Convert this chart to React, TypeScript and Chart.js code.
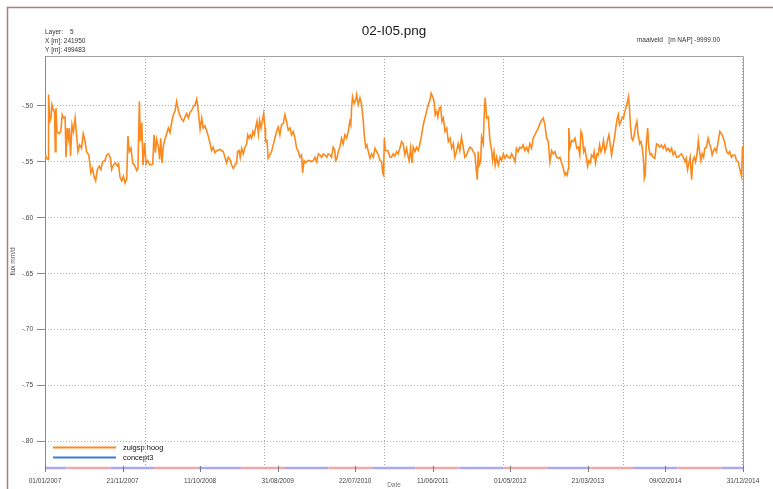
import React, { useEffect, useRef } from "react";
import { Chart, registerables } from "chart.js";

Chart.register(...registerables);

const chartTitle = "02-I05.png";
const headerLines = ["Layer:", "X [m]: 241950", "Y [m]: 499483"];
const layerValue = "5";
const maaiveldText = "maaiveld   [m NAP] -9999.00";
const yAxisTitle = "flux mm/d";
const xAxisTitle = "Date";

const seriesLabels = ["zuigsp hoog", "concept3"];
const seriesColors = ["#fb8a1e", "#3c7ddc"];

// x: days since 01/01/2007, y: flux (mm/d)
const days = [
  0, 7, 13, 15, 20, 25, 29, 35, 40, 43, 46, 50, 59, 66, 72, 78, 84, 88, 93, 98, 102, 107, 113, 119, 126, 132, 138, 145, 153, 160,
  167, 174, 183, 188, 192, 199, 205, 212, 219, 227, 234, 241, 251, 258, 266, 273, 279, 286, 294, 303, 308, 314, 321, 328, 335, 342, 347, 353, 360, 367,
  377, 384, 389, 395, 399, 405, 410, 417, 423, 430, 439, 451, 456, 462, 467, 474, 480, 484, 490, 495, 502, 509, 516, 523, 530, 537, 544, 551, 558, 565,
  572, 579, 586, 593, 600, 607, 614, 621, 628, 635, 642, 649, 656, 662, 669, 676, 683, 690, 697, 704, 711, 721,
  732, 739, 746, 753, 760, 767, 774, 781, 788, 795, 802, 806, 812, 817, 823, 830, 837, 844, 848, 854, 859, 865, 870, 876, 881, 887, 893, 898, 904, 909,
  915, 921, 923, 929, 934, 941, 948, 955, 962, 969, 976, 983, 990, 997, 1004, 1011, 1018, 1025, 1032, 1039, 1046, 1053, 1060, 1067, 1074, 1078, 1084, 1091, 1099, 1109,
  1116, 1123, 1130, 1137, 1144, 1151, 1158, 1165, 1172, 1179, 1185, 1193, 1199, 1206, 1213, 1216, 1222, 1227, 1234, 1241, 1248, 1255, 1262, 1269, 1276, 1280, 1283, 1287, 1294, 1300,
  1304, 1311, 1318, 1325, 1332, 1336, 1342, 1347, 1353, 1360, 1367, 1374, 1381, 1388, 1395, 1402, 1409, 1413, 1417, 1420, 1425, 1434, 1444,
  1450, 1457, 1464, 1471, 1478, 1485, 1492, 1499, 1506, 1513, 1520, 1524, 1530, 1536, 1541, 1548, 1555, 1562, 1569, 1576, 1583, 1590, 1597, 1604, 1611, 1616, 1622, 1628, 1633, 1639,
  1644, 1650, 1656, 1661, 1667, 1674, 1681, 1688, 1695, 1702, 1709, 1715, 1722, 1729, 1736, 1743, 1750, 1757, 1764, 1771, 1778, 1785, 1792, 1799, 1803, 1809, 1813, 1817, 1823, 1827,
  1834, 1838, 1842, 1848, 1855, 1862, 1869, 1873, 1879, 1884, 1890, 1897, 1904, 1911, 1918, 1925, 1932, 1939, 1946, 1953, 1960, 1967, 1973, 1980, 1987, 1994, 2001, 2008, 2015, 2022,
  2029, 2036, 2043, 2050, 2057, 2064, 2071, 2078, 2085, 2092, 2099, 2106, 2113, 2120, 2127, 2134, 2141, 2148, 2155, 2162, 2169, 2176,
  2180, 2185, 2190, 2192, 2197, 2204, 2211, 2218, 2225, 2232, 2238, 2243, 2248, 2254, 2259, 2266, 2271, 2276, 2282, 2287, 2294, 2298, 2304, 2310, 2315, 2321, 2326, 2332, 2337, 2343,
  2349, 2354, 2360, 2365, 2371, 2378, 2385, 2389, 2395, 2399, 2404, 2410, 2416, 2421, 2427, 2432, 2438, 2442, 2446, 2450, 2455, 2460, 2466, 2471, 2477, 2482, 2489, 2494, 2499, 2505,
  2508, 2512, 2516, 2522, 2527, 2533, 2538, 2545, 2552, 2559, 2566, 2573, 2580, 2587, 2594, 2601, 2608, 2615, 2622, 2629, 2636, 2643, 2650, 2657, 2664, 2671, 2678, 2683, 2689, 2695,
  2700, 2706, 2711, 2717, 2722, 2728, 2734, 2739, 2745, 2750, 2756, 2761, 2768, 2775, 2781, 2787, 2792, 2798, 2803, 2810, 2817, 2824, 2831, 2837, 2842, 2848, 2853, 2859, 2865, 2873,
  2880, 2887, 2894, 2901, 2908, 2915, 2919, 2921,
];

const zuigspHoog = [
  -0.543, -0.547, -0.548, -0.490, -0.514, -0.511, -0.499, -0.504, -0.505, -0.541, -0.502, -0.523, -0.525, -0.523, -0.508, -0.511, -0.510, -0.546, -0.520, -0.529, -0.520, -0.545, -0.517, -0.523, -0.511, -0.526, -0.541, -0.535, -0.538, -0.525,
  -0.531, -0.541, -0.544, -0.552, -0.560, -0.556, -0.563, -0.567, -0.557, -0.554, -0.557, -0.550, -0.549, -0.544, -0.543, -0.546, -0.557, -0.553, -0.551, -0.554, -0.552, -0.564, -0.567, -0.563, -0.569, -0.565, -0.527, -0.541, -0.538, -0.551,
  -0.554, -0.558, -0.556, -0.496, -0.532, -0.515, -0.553, -0.533, -0.552, -0.549, -0.553, -0.552, -0.526, -0.542, -0.530, -0.536, -0.548, -0.529, -0.551, -0.536, -0.530, -0.525, -0.520, -0.524, -0.515, -0.508, -0.505, -0.496, -0.504, -0.509,
  -0.512, -0.514, -0.510, -0.507, -0.511, -0.506, -0.504, -0.501, -0.499, -0.494, -0.506, -0.521, -0.511, -0.520, -0.518, -0.522, -0.527, -0.533, -0.540, -0.537, -0.542, -0.540,
  -0.539, -0.540, -0.541, -0.546, -0.551, -0.546, -0.548, -0.553, -0.556, -0.553, -0.551, -0.541, -0.540, -0.546, -0.538, -0.543, -0.537, -0.534, -0.526, -0.529, -0.526, -0.529, -0.523, -0.526, -0.520, -0.514, -0.525, -0.513, -0.520, -0.514,
  -0.507, -0.520, -0.532, -0.531, -0.547, -0.544, -0.541, -0.535, -0.529, -0.523, -0.519, -0.526, -0.517, -0.516, -0.508, -0.514, -0.522, -0.520, -0.526, -0.523, -0.529, -0.538, -0.541, -0.546, -0.544, -0.560, -0.549, -0.551, -0.549, -0.549,
  -0.550, -0.549, -0.546, -0.550, -0.543, -0.544, -0.546, -0.543, -0.544, -0.546, -0.543, -0.544, -0.546, -0.537, -0.540, -0.549, -0.547, -0.541, -0.537, -0.529, -0.534, -0.526, -0.529, -0.523, -0.514, -0.517, -0.502, -0.492, -0.498, -0.495,
  -0.490, -0.499, -0.493, -0.499, -0.514, -0.526, -0.537, -0.535, -0.541, -0.547, -0.543, -0.546, -0.538, -0.541, -0.544, -0.549, -0.550, -0.560, -0.562, -0.529, -0.540, -0.540, -0.546,
  -0.546, -0.543, -0.545, -0.541, -0.543, -0.538, -0.532, -0.534, -0.544, -0.538, -0.546, -0.549, -0.538, -0.551, -0.537, -0.541, -0.537, -0.540, -0.534, -0.526, -0.517, -0.511, -0.505, -0.499, -0.495, -0.489, -0.492, -0.496, -0.508, -0.505,
  -0.510, -0.502, -0.501, -0.514, -0.511, -0.523, -0.520, -0.532, -0.529, -0.538, -0.534, -0.546, -0.541, -0.534, -0.540, -0.528, -0.537, -0.546, -0.544, -0.540, -0.537, -0.538, -0.541, -0.543, -0.553, -0.566, -0.541, -0.553, -0.550, -0.528,
  -0.534, -0.508, -0.493, -0.511, -0.510, -0.531, -0.540, -0.549, -0.541, -0.553, -0.546, -0.553, -0.546, -0.549, -0.543, -0.547, -0.544, -0.546, -0.547, -0.543, -0.546, -0.550, -0.538, -0.541, -0.537, -0.538, -0.535, -0.540, -0.537, -0.541,
  -0.534, -0.538, -0.529, -0.526, -0.523, -0.520, -0.516, -0.513, -0.511, -0.517, -0.529, -0.532, -0.550, -0.540, -0.543, -0.541, -0.546, -0.547, -0.546, -0.551, -0.556, -0.562,
  -0.560, -0.562, -0.556, -0.520, -0.537, -0.531, -0.532, -0.529, -0.538, -0.537, -0.544, -0.523, -0.526, -0.541, -0.538, -0.547, -0.554, -0.549, -0.551, -0.544, -0.546, -0.541, -0.551, -0.543, -0.544, -0.535, -0.541, -0.538, -0.531, -0.541,
  -0.537, -0.531, -0.526, -0.534, -0.544, -0.535, -0.526, -0.519, -0.511, -0.508, -0.517, -0.514, -0.510, -0.511, -0.505, -0.501, -0.496, -0.492, -0.502, -0.517, -0.529, -0.531, -0.526, -0.519, -0.514, -0.526, -0.534, -0.532, -0.537, -0.549,
  -0.565, -0.562, -0.535, -0.520, -0.538, -0.544, -0.543, -0.546, -0.547, -0.534, -0.535, -0.537, -0.535, -0.538, -0.535, -0.540, -0.538, -0.541, -0.538, -0.544, -0.541, -0.546, -0.546, -0.544, -0.543, -0.546, -0.550, -0.547, -0.557, -0.551,
  -0.546, -0.566, -0.549, -0.546, -0.550, -0.544, -0.531, -0.541, -0.549, -0.543, -0.546, -0.538, -0.537, -0.529, -0.534, -0.538, -0.544, -0.540, -0.538, -0.541, -0.532, -0.523, -0.525, -0.528, -0.531, -0.537, -0.541, -0.543, -0.541, -0.546,
  -0.544, -0.544, -0.549, -0.550, -0.557, -0.563, -0.537, -0.536,
];

const concept3: number[] = [];

const xMaxDay = 2921;
const xTickLabels = [
  "01/01/2007", "21/11/2007", "11/10/2008", "31/08/2009", "22/07/2010",
  "11/06/2011", "01/05/2012", "21/03/2013", "09/02/2014", "31/12/2014",
];
const yMin = -0.8226;
const yMax = -0.4556;
const yTickValues = [-0.8, -0.75, -0.7, -0.65, -0.6, -0.55, -0.5];
const yTickLabels = ["-.80", "-.75", "-.70", "-.65", "-.60", "-.55", "-.50"];
const vGridDays = [417, 917, 1417, 1917, 2417, 2917];
const seasonYears = [2007, 2008, 2009, 2010, 2011, 2012, 2013, 2014];

const FONT = "'Liberation Sans', Arial, sans-serif";

function dayOf(y: number, m: number, d: number) {
  return Math.round((Date.UTC(y, m - 1, d) - Date.UTC(2007, 0, 1)) / 86400000);
}

const decorPlugin = {
  id: "decor",
  beforeDraw(chart: any) {
    const { ctx } = chart;
    ctx.save();
    ctx.fillStyle = "#ffffff";
    ctx.fillRect(0, 0, chart.width, chart.height);
    ctx.strokeStyle = "#b07c76";
    ctx.lineWidth = 1.5;
    ctx.beginPath();
    ctx.moveTo(7.5, chart.height);
    ctx.lineTo(7.5, 7.5);
    ctx.lineTo(chart.width, 7.5);
    ctx.stroke();
    ctx.restore();
  },
  beforeDatasetsDraw(chart: any) {
    const { ctx, chartArea: a } = chart;
    const xs = chart.scales.x;
    ctx.save();
    ctx.strokeStyle = "#a8a8a8";
    ctx.lineWidth = 1;
    ctx.setLineDash([1, 2]);
    for (const d of vGridDays) {
      const px = Math.round(xs.getPixelForValue(d)) + 0.5;
      ctx.beginPath();
      ctx.moveTo(px, a.top);
      ctx.lineTo(px, a.bottom);
      ctx.stroke();
    }
    ctx.setLineDash([]);
    ctx.strokeStyle = "#a0a0a0";
    ctx.beginPath();
    ctx.moveTo(a.left, a.top + 0.5);
    ctx.lineTo(a.right + 0.5, a.top + 0.5);
    ctx.lineTo(a.right + 0.5, a.bottom);
    ctx.stroke();
    ctx.strokeStyle = "#8a8a8a";
    ctx.beginPath();
    ctx.moveTo(a.left + 0.5, a.top);
    ctx.lineTo(a.left + 0.5, a.bottom);
    ctx.stroke();
    ctx.restore();
  },
  afterDraw(chart: any) {
    const { ctx, chartArea: a } = chart;
    const xs = chart.scales.x;
    ctx.save();
    // season band along the x axis
    const bounds: number[] = [0];
    for (const y of seasonYears) {
      bounds.push(dayOf(y, 4, 1));
      bounds.push(dayOf(y, 10, 1));
    }
    bounds.push(xMaxDay);
    ctx.lineWidth = 2.5;
    for (let i = 0; i < bounds.length - 1; i++) {
      ctx.strokeStyle = i % 2 === 0 ? "#aaaaf2" : "#f2a8a8";
      ctx.beginPath();
      ctx.moveTo(xs.getPixelForValue(bounds[i]), a.bottom + 1);
      ctx.lineTo(xs.getPixelForValue(bounds[i + 1]), a.bottom + 1);
      ctx.stroke();
    }
    // tick marks over band
    ctx.strokeStyle = "#7a7a7a";
    ctx.lineWidth = 1;
    xTickLabels.forEach((_, i) => {
      const px = Math.round(xs.getPixelForValue((i * xMaxDay) / 9)) + 0.5;
      ctx.beginPath();
      ctx.moveTo(px, a.bottom - 1);
      ctx.lineTo(px, a.bottom + 5);
      ctx.stroke();
    });
    // title
    ctx.fillStyle = "#1a1a1a";
    ctx.font = `13.5px ${FONT}`;
    ctx.textAlign = "center";
    ctx.textBaseline = "middle";
    ctx.fillText(chartTitle, (a.left + a.right) / 2, 31);
    // header info
    ctx.font = `6.5px ${FONT}`;
    ctx.fillStyle = "#333";
    ctx.textAlign = "left";
    headerLines.forEach((t, i) => ctx.fillText(t, 45, 32 + i * 9.3));
    ctx.fillText(layerValue, 70, 32);
    ctx.textAlign = "right";
    ctx.fillText(maaiveldText, 720, 40);
    // legend
    ctx.textAlign = "left";
    ctx.font = `7.5px ${FONT}`;
    ctx.fillStyle = "#111";
    chart.data.datasets.forEach((ds: any, i: number) => {
      const y = 447.5 + i * 10;
      ctx.strokeStyle = ds.borderColor;
      ctx.lineWidth = 2;
      ctx.beginPath();
      ctx.moveTo(53, y);
      ctx.lineTo(116, y);
      ctx.stroke();
      ctx.fillText(ds.label, 123, y);
    });
    ctx.restore();
  },
};

export default function App() {
  const ref = useRef<HTMLCanvasElement | null>(null);
  useEffect(() => {
    if (!ref.current) return;
    const chart = new Chart(ref.current, {
      type: "line",
      data: {
        datasets: [
          {
            label: seriesLabels[0],
            data: days.map((d, i) => ({ x: d, y: zuigspHoog[i] })),
            borderColor: seriesColors[0],
            backgroundColor: seriesColors[0],
            borderWidth: 1.6,
            pointRadius: 0,
            tension: 0,
          },
          {
            label: seriesLabels[1],
            data: concept3.map((v, i) => ({ x: days[i], y: v })),
            borderColor: seriesColors[1],
            backgroundColor: seriesColors[1],
            borderWidth: 1.6,
            pointRadius: 0,
          },
        ],
      },
      options: {
        responsive: false,
        animation: false,
        devicePixelRatio: 1,
        layout: { padding: { left: 0, top: 56, right: 30, bottom: 0 } },
        plugins: { legend: { display: false }, title: { display: false }, tooltip: { enabled: false } },
        scales: {
          x: {
            type: "linear",
            min: 0,
            max: xMaxDay,
            offset: false,
            afterBuildTicks: (s: any) => {
              s.ticks = xTickLabels.map((_, i) => ({ value: (i * xMaxDay) / 9 }));
            },
            afterFit: (s: any) => {
              s.height = 22;
            },
            ticks: {
              autoSkip: false,
              maxRotation: 0,
              padding: 2,
              color: "#444",
              font: { size: 6.5, family: FONT },
              callback: (_v: any, i: number) => xTickLabels[i],
            },
            grid: { display: false },
            border: { display: false },
            title: {
              display: true,
              text: xAxisTitle,
              color: "#777",
              font: { size: 6.5, family: FONT },
              padding: { top: 0, bottom: 0 },
            },
          },
          y: {
            type: "linear",
            min: yMin,
            max: yMax,
            afterBuildTicks: (s: any) => {
              s.ticks = yTickValues.map((v) => ({ value: v }));
            },
            afterFit: (s: any) => {
              s.width = 45;
            },
            ticks: {
              padding: 4,
              color: "#444",
              font: { size: 6.5, family: FONT },
              callback: (_v: any, i: number) => yTickLabels[i],
            },
            grid: {
              color: "#b0b0b0",
              lineWidth: 1,
              drawTicks: true,
              tickLength: 8,
              tickColor: "#8a8a8a",
              tickBorderDash: [],
            },
            border: { display: false, dash: [1, 2] },
            title: {
              display: true,
              text: yAxisTitle,
              color: "#555",
              font: { size: 6.5, family: FONT },
              padding: { top: 9, bottom: 0 },
            },
          },
        },
      },
      plugins: [decorPlugin],
    } as any);
    return () => chart.destroy();
  }, []);
  return (
    <div style={{ position: "fixed", left: 0, top: 0, width: 773, height: 489, background: "#fff" }}>
      <canvas ref={ref} width={773} height={489} style={{ width: 773, height: 489, display: "block" }} />
    </div>
  );
}
